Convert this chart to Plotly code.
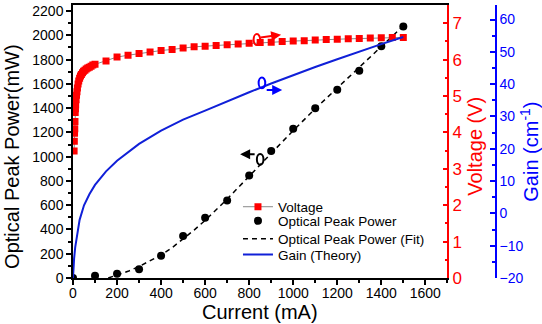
import plotly.graph_objects as go

# ---------------- data ----------------
volt_current = [5, 6, 7, 8, 9, 10, 11, 12, 14, 16, 18, 20, 23, 26, 30, 34, 38, 43, 48, 54, 60, 67, 74, 82, 90, 100,
                150, 200, 250, 300, 350, 400, 450, 500, 550, 600, 650, 700, 750, 800, 850, 900, 950, 1000,
                1050, 1100, 1150, 1200, 1250, 1300, 1350, 1400, 1450, 1500]
voltage = [3.49, 3.76, 3.98, 4.10, 4.30, 4.55, 4.65, 4.75, 4.90, 5.02, 5.12, 5.22, 5.33, 5.41, 5.49, 5.55, 5.59, 5.64,
           5.68, 5.71, 5.74, 5.77, 5.79, 5.82, 5.85, 5.87,
           5.96, 6.07, 6.12, 6.17, 6.21, 6.25, 6.28, 6.32, 6.35, 6.37, 6.39, 6.41, 6.43, 6.45, 6.47, 6.48, 6.50, 6.51,
           6.52, 6.54, 6.55, 6.56, 6.57, 6.58, 6.59, 6.60, 6.61, 6.61]

power_current = [0, 100, 200, 300, 400, 500, 600, 700, 800, 900, 1000, 1100, 1200, 1300, 1400, 1500]
power = [0, 19, 35, 73, 184, 347, 497, 638, 845, 1046, 1230, 1399, 1551, 1708, 1909, 2072]

fit_current = [160, 200, 250, 300, 350, 400, 450, 500, 550, 600, 650, 700, 750, 800, 900, 1000, 1100, 1200, 1300, 1400, 1500]
fit_power = [0, 22, 55, 95, 140, 190, 250, 320, 395, 475, 560, 650, 745, 840, 1030, 1215, 1395, 1565, 1735, 1905, 2078]

gain_current = [0, 2, 5, 10, 20, 30, 50, 75, 100, 150, 200, 250, 300, 400, 500, 600, 700, 800, 900, 1000,
                1100, 1200, 1300, 1400, 1500]
gain = [-20, -17, -14, -10.5, -5.5, -2, 2.5, 6, 8.8, 13, 16.3, 19, 21.5, 25.6, 29.0, 31.8, 34.7, 37.5, 40.2, 42.8,
        45.3, 47.7, 50.1, 52.4, 54.6]

RED = "#ff0000"
BLUE = "#0000ff"
GAIN_LINE = "#1020d8"
FONT = "Liberation Sans, Arial, sans-serif"

fig = go.Figure()
fig.add_trace(go.Scatter(x=volt_current, y=voltage, name="Voltage", yaxis="y2", mode="lines+markers",
                         line=dict(color="#888888", width=1),
                         marker=dict(symbol="square", size=7, color=RED), legend="legend"))
fig.add_trace(go.Scatter(x=power_current, y=power, name="Optical Peak Power", mode="markers",
                         marker=dict(symbol="circle", size=8, color="black"), legend="legend2"))
fig.add_trace(go.Scatter(x=fit_current, y=fit_power, name="Optical Peak Power (Fit)", mode="lines",
                         line=dict(color="black", width=1.5, dash="5px,4px"), legend="legend3"))
fig.add_trace(go.Scatter(x=gain_current, y=gain, name="Gain (Theory)", yaxis="y3", mode="lines",
                         line=dict(color=GAIN_LINE, width=2), legend="legend4"))

xdom_end = 0.885


def leg(ytop):
    return dict(x=0.39, y=ytop, xanchor="left", yanchor="top", bgcolor="rgba(0,0,0,0)",
                font=dict(size=13.5, family=FONT, color="black"), itemwidth=30)


fig.update_layout(
    width=542, height=324,
    margin=dict(l=73, r=46, t=3, b=46),
    paper_bgcolor="white", plot_bgcolor="white",
    font=dict(family=FONT, size=14, color="black"),
    showlegend=True,
    legend=leg(0.317),
    legend2=leg(0.2655),
    legend3=leg(0.200),
    legend4=leg(0.1418),
    xaxis=dict(domain=[0, xdom_end], range=[0, 1700], showgrid=False, zeroline=False,
               showline=True, linecolor="black", linewidth=1.5, mirror=True,
               ticks="outside", ticklen=5, tickwidth=1.5, tickcolor="black",
               tick0=0, dtick=200, tickfont=dict(size=14, color="black"), ticklabelstandoff=-4,
               minor=dict(ticks="outside", ticklen=3, tickwidth=1.5, dtick=100, tickcolor="black")),
    yaxis=dict(range=[0, 2250], showgrid=False, zeroline=False,
               showline=True, linecolor="black", linewidth=1.5,
               ticks="outside", ticklen=5, tickwidth=1.5, tickcolor="black",
               tick0=0, dtick=200, tickfont=dict(size=14, color="black"),
               minor=dict(ticks="outside", ticklen=3, tickwidth=1.5, dtick=100, tickcolor="black")),
    yaxis2=dict(range=[0, 7.5], overlaying="y", side="right", anchor="x", showgrid=False, zeroline=False,
                showline=True, linecolor=RED, linewidth=1.5,
                ticks="inside", ticklen=5, tickwidth=1.5, tickcolor=RED,
                tick0=0, dtick=1, tickfont=dict(size=17, color=RED),
                minor=dict(ticks="inside", ticklen=3, tickwidth=1.5, dtick=0.5, tickcolor=RED)),
    yaxis3=dict(range=[-20, 64.5], overlaying="y", side="right", anchor="free", position=1.0,
                showgrid=False, zeroline=False,
                showline=True, linecolor=BLUE, linewidth=1.5,
                ticks="inside", ticklen=5, tickwidth=1.5, tickcolor=BLUE,
                tick0=-20, dtick=10, tickfont=dict(size=14, color=BLUE),
                minor=dict(ticks="inside", ticklen=3, tickwidth=1.5, dtick=5, tickcolor=BLUE)),
)

# axis titles as annotations
titles = [
    dict(text="Optical Peak Power(mW)", x=-0.144, y=0.444, textangle=-90, color="black"),
    dict(text="Voltage (V)", x=0.950, y=0.484, textangle=-90, color=RED),
    dict(text="Gain (cm<sup>-1</sup>)", x=1.080, y=0.462, textangle=-90, color=BLUE),
    dict(text="Current (mA)", x=0.442, y=-0.124, textangle=0, color="black"),
]
for t in titles:
    fig.add_annotation(text=t["text"], x=t["x"], y=t["y"], xref="paper", yref="paper",
                       xanchor="center", yanchor="middle", showarrow=False, textangle=t["textangle"],
                       font=dict(family=FONT, size=20, color=t["color"]))

# arrows indicating which axis each curve belongs to
arrows = [
    dict(x=945, y=2005, ax=-22, ay=3, color=RED),
    dict(x=950, y=1549, ax=-17, ay=0, color=BLUE),
    dict(x=759, y=1019, ax=16, ay=0, color="black"),
]
for a in arrows:
    fig.add_annotation(x=a["x"], y=a["y"], xref="x", yref="y", ax=a["ax"], ay=a["ay"],
                       showarrow=True, arrowhead=2, arrowsize=1, arrowwidth=2, arrowcolor=a["color"], text="")

loops = [
    dict(xc=835, yc=1965, color=RED),
    dict(xc=858, yc=1608, color=BLUE),
    dict(xc=850, yc=978, color="black"),
]
for lp in loops:
    fig.add_shape(type="circle", xref="x", yref="y", x0=lp["xc"] - 15, x1=lp["xc"] + 15,
                  y0=lp["yc"] - 45, y1=lp["yc"] + 45, line=dict(color=lp["color"], width=2))

fig.write_html("out.html")
